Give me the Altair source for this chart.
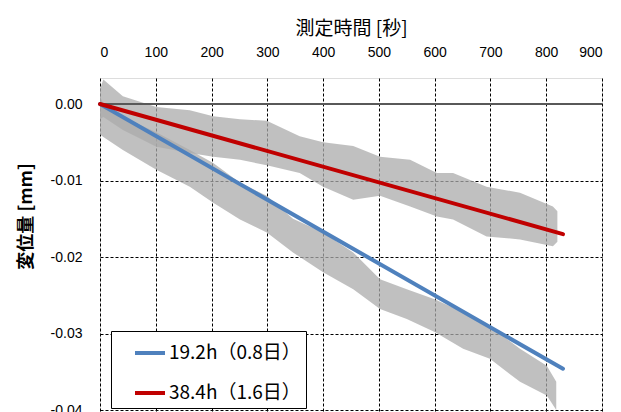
import altair as alt
import pandas as pd

# Fitted lines
series_names = ["19.2h（0.8日）", "38.4h（1.6日）"]
series_colors = ["#4f81bd", "#c00000"]
line_t = [0, 830]
blue_v = [0.0, -0.0346]
red_v = [0.0, -0.0170]

lower_t = [0, 6, 41, 101, 161, 203, 251, 299, 346, 400, 454, 502, 550, 600, 651, 699, 753, 801, 818]
lower_hi = [0.0010, 0.0000, -0.0017, -0.0037, -0.0060, -0.0077, -0.0103, -0.0120, -0.0150, -0.0168,
            -0.0194, -0.0229, -0.0242, -0.0255, -0.0272, -0.0290, -0.0320, -0.0342, -0.0363]
lower_lo = [-0.0040, -0.0043, -0.0060, -0.0086, -0.0108, -0.0129, -0.0151, -0.0168, -0.0194, -0.0220,
            -0.0242, -0.0268, -0.0281, -0.0298, -0.0320, -0.0333, -0.0363, -0.0381, -0.0400]

upper_t = [0, 6, 41, 101, 161, 203, 251, 299, 358, 400, 454, 502, 556, 604, 633, 693, 753, 812, 820]
upper_hi = [0.0020, 0.0032, 0.0010, -0.0004, -0.0008, -0.0016, -0.0020, -0.0022, -0.0042, -0.0050,
            -0.0055, -0.0069, -0.0073, -0.0090, -0.0090, -0.0108, -0.0116, -0.0134, -0.0140]
upper_lo = [-0.0020, -0.0017, -0.0034, -0.0056, -0.0064, -0.0069, -0.0073, -0.0080, -0.0090, -0.0108,
            -0.0125, -0.0120, -0.0134, -0.0147, -0.0151, -0.0173, -0.0177, -0.0186, -0.0180]

x_ticks = [0, 100, 200, 300, 400, 500, 600, 700, 800, 900]
y_ticks = [0.0, -0.01, -0.02, -0.03, -0.04]

lines_df = pd.DataFrame({
    "t": line_t + line_t,
    "v": blue_v + red_v,
    "s": [series_names[0]] * 2 + [series_names[1]] * 2,
})
lower_df = pd.DataFrame({"t": lower_t, "hi": lower_hi, "lo": lower_lo})
upper_df = pd.DataFrame({"t": upper_t, "hi": upper_hi, "lo": upper_lo})

CJK = "Noto Sans CJK JP"
LAB = "Liberation Sans"

xscale = alt.Scale(domain=[0, 900], nice=False)
yscale = alt.Scale(domain=[-0.046, 0.0034], nice=False)

x_axis = alt.Axis(
    orient="top", values=x_ticks, title="測定時間 [秒]", titleFont=CJK, titleFontSize=19,
    titleFontWeight="normal", titleColor="#000000", titlePadding=7,
    labelFont=LAB, labelFontSize=14, labelColor="#000000", labelPadding=19,
    ticks=False, domain=False, grid=True, gridColor="#000000", gridDash=[3, 2], gridWidth=1,
)
y_axis = alt.Axis(
    values=y_ticks, title="変位量 [mm]", titleFont=CJK, titleFontSize=18, titleFontWeight="bold",
    titleColor="#000000", titleAngle=-90, titleX=-74, titleY=138, titleBaseline="middle",
    titleAlign="center",
    labelFont=LAB, labelFontSize=14, labelColor="#000000", labelPadding=18,
    labelExpr="datum.value == 0 ? '0.00' : '-' + format(abs(datum.value), '.2f')",
    ticks=False, domain=False, grid=True, gridColor="#000000", gridDash=[3, 2], gridWidth=1,
)

band_lower = alt.Chart(lower_df).mark_area(color="#ababab", opacity=0.75).encode(
    x=alt.X("t:Q", scale=xscale, axis=x_axis),
    y=alt.Y("hi:Q", scale=yscale, axis=y_axis),
    y2="lo:Q",
)
band_upper = alt.Chart(upper_df).mark_area(color="#ababab", opacity=0.75).encode(
    x=alt.X("t:Q", scale=xscale),
    y=alt.Y("hi:Q", scale=yscale),
    y2="lo:Q",
)
zero_rule = alt.Chart(lines_df).mark_rule(color="#595959", strokeWidth=1.5).encode(
    y=alt.datum(0.0, scale=yscale)
)
lines = alt.Chart(lines_df).mark_line(strokeWidth=4, strokeCap="round").encode(
    x=alt.X("t:Q", scale=xscale),
    y=alt.Y("v:Q", scale=yscale),
    color=alt.Color(
        "s:N",
        scale=alt.Scale(domain=series_names, range=series_colors),
        legend=alt.Legend(
            title=None, orient="none", legendX=11, legendY=253,
            strokeColor="#000000", fillColor="#ffffff", padding=5,
            symbolType="stroke", symbolStrokeWidth=4, symbolSize=900, symbolOffset=17,
            labelFont=CJK, labelFontSize=19, labelColor="#000000", labelOffset=2,
            rowPadding=13,
        ),
    ),
)

chart = alt.layer(band_lower, band_upper, zero_rule, lines).properties(
    width=502, height=378,
    autosize=alt.AutoSizeParams(type="none"),
    padding={"left": 92, "top": 70, "right": 10, "bottom": 10},
).configure_view(stroke="#000000", strokeWidth=1.5).configure(background="#ffffff")

chart.save("out.html", embed_options={"renderer": "svg", "actions": False})
